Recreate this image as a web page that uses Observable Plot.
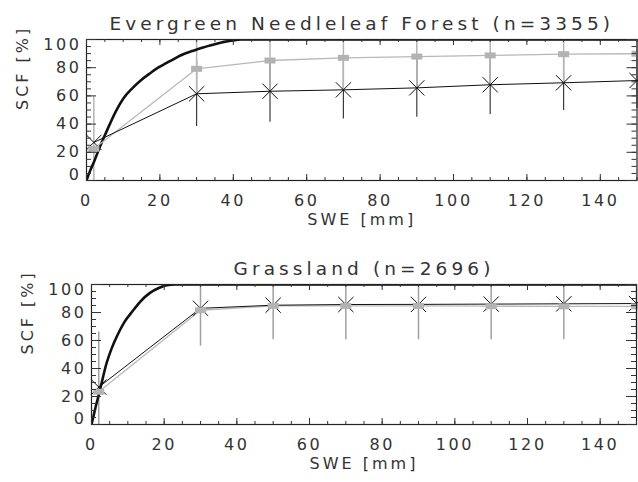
<!DOCTYPE html>
<html><head><meta charset="utf-8">
<script src="https://cdn.jsdelivr.net/npm/d3@7"></script>
<script src="https://cdn.jsdelivr.net/npm/@observablehq/plot@0.6"></script>
<style>
body{margin:0;background:#fff;overflow:hidden}
svg{display:block}
svg text{letter-spacing:2.6px}
.panel{position:relative;width:638px;height:241px}
.panel svg.overlay{position:absolute;left:0;top:0;pointer-events:none;background:transparent}
</style>
</head><body><div id="chart"></div>
<script>
// ---- data ----
const swe = [2, 30, 50, 70, 90, 110, 130, 150];

// Evergreen Needleleaf Forest
const enfTitle = "Evergreen Needleleaf Forest (n=3355)";
const enfGray   = [22.5, 79.2, 85.1, 87.0, 87.9, 88.7, 89.6, 89.9];
const enfGrayLo = [0, 61.5, 63.3, 64.3, 65.7, 67.9, 69.3, 70.9];
const enfGrayHi = [60, 100, 100, 100, 100, 100, 100, 100];
const enfBlack   = [27, 61.5, 63.3, 64.3, 65.7, 67.9, 69.3, 70.9];
const enfBlackLo = [27, 38.3, 41.4, 43.7, 44.9, 46.8, 49.6, 51];
const enfBlackHi = [27, 84.7, 85.2, 84.9, 86.5, 89, 89, 90];
const enfCurveX = [0, 1, 2, 3.6, 5.5, 8.1, 10, 12.6, 15, 17.1, 19.5, 21.7, 24, 26.2, 28.5, 30.7, 33, 35.3, 37.5, 39.8, 42, 150];
const enfCurveY = [0, 7, 13, 23.6, 35, 49.6, 58, 65.7, 71.5, 75.6, 80, 83.2, 86.5, 89.4, 91.6, 93.4, 95.3, 96.9, 98.3, 99.3, 100, 100];

// Grassland
const grsTitle = "Grassland (n=2696)";
const grsGray   = [23.4, 81.6, 84.7, 84.7, 84.7, 84.5, 84.4, 84.4];
const grsGrayLo = [0, 56, 60.6, 60.6, 60.6, 60.6, 60.6, 60.6];
const grsGrayHi = [66, 100, 100, 100, 100, 100, 100, 100];
const grsBlack   = [26.7, 83, 85.2, 85.7, 85.8, 86.0, 86.2, 86.4];
const grsBlackLo = [26.7, 83, 85.2, 85.7, 85.8, 86.0, 86.2, 86.4];
const grsBlackHi = [26.7, 83, 85.2, 85.7, 85.8, 86.0, 86.2, 86.4];
const grsCurveX = [0, 1, 2.3, 4.1, 5.5, 6.9, 9, 11.5, 13.5, 16.1, 18.5, 20.7, 23, 150];
const grsCurveY = [0, 11, 24.3, 43.4, 54, 62.5, 73, 81.6, 88, 94, 97.5, 99.5, 100, 100];

// ticks
const xMajor = [0, 20, 40, 60, 80, 100, 120, 140];
const xMinor = [0, 5, 10, 15, 20, 25, 30, 35, 40, 45, 50, 55, 60, 65, 70, 75, 80, 85, 90, 95, 100, 105, 110, 115, 120, 125, 130, 135, 140, 145, 150];
const yMajor = [0, 20, 40, 60, 80, 100];
const yMinor = [0, 5, 10, 15, 20, 25, 30, 35, 40, 45, 50, 55, 60, 65, 70, 75, 80, 85, 90, 95, 100];
const yMidLabels = [20, 40, 60, 80];
const yTopLabel = [100];
const yBottomLabel = [0];
const xLabel = "SWE [mm]";
const yLabel = "SCF [%]";

const X_DOMAIN = [0, 150], Y_DOMAIN = [0, 100];
const WIDTH = 638;

// wide rectangle marker
const wideSquare = {draw(ctx) { const w = 5.5, h = 3; ctx.moveTo(-w, -h); ctx.lineTo(w, -h); ctx.lineTo(w, h); ctx.lineTo(-w, h); ctx.closePath(); }};

function panel(o) {
  const gray = swe.map((x, i) => ({x, y: o.grayY[i], lo: o.grayLo[i], hi: o.grayHi[i]}));
  const black = swe.map((x, i) => ({x, y: o.blackY[i], lo: o.blackLo[i], hi: o.blackHi[i]}));
  const curve = o.curveX.map((x, i) => ({x, y: o.curveY[i]}));
  const tc = "#333";
  const fs = 16;
  const dims = {width: WIDTH, height: o.height, marginLeft: o.marginLeft, marginRight: o.marginRight, marginTop: o.marginTop, marginBottom: o.marginBottom};

  const main = Plot.plot({
    ...dims,
    x: {domain: X_DOMAIN}, y: {domain: Y_DOMAIN},
    style: {fontFamily: "DejaVu Sans", color: "#222", background: "white"},
    marks: [
      Plot.ruleX(black, {x: "x", y1: "lo", y2: "hi", stroke: "#3c3c3c", strokeWidth: 1.2}),
      Plot.ruleX(gray, {x: "x", y1: "lo", y2: "hi", stroke: o.grayBar, strokeWidth: 1.5}),
      Plot.line(curve, {x: "x", y: "y", stroke: "#111", strokeWidth: 2.6, curve: "monotone-x", clip: true}),
      Plot.line(gray, {x: "x", y: "y", stroke: "#b8b8b8", strokeWidth: 1.3}),
      Plot.line(black, {x: "x", y: "y", stroke: "#111", strokeWidth: 1}),
      Plot.dot(black, {x: "x", y: "y", symbol: "times", r: 7, stroke: "#111", strokeWidth: 1}),
      Plot.dot(gray, {x: "x", y: "y", symbol: wideSquare, fill: "#b3b3b3", stroke: "none"}),
      Plot.frame({stroke: "#222", strokeWidth: 1.2}),
      // tick labels
      Plot.axisX(xMajor, {anchor: "bottom", tickSize: 0, tickPadding: 14, stroke: "none", label: null, fontSize: fs, fill: tc}),
      Plot.axisY(yMidLabels, {anchor: "left", tickSize: 0, tickPadding: 5, stroke: "none", label: null, fontSize: fs, fill: tc}),
      Plot.axisY(yTopLabel, {anchor: "left", tickSize: 0, tickPadding: 5, stroke: "none", label: null, fontSize: fs, fill: tc, dy: 5.5}),
      Plot.axisY(yBottomLabel, {anchor: "left", tickSize: 0, tickPadding: 5, stroke: "none", label: null, fontSize: fs, fill: tc, dy: -6}),
      // titles
      Plot.text([o.title], {frameAnchor: "top", dy: -10, lineAnchor: "bottom", fontSize: 18.5, fill: tc}),
      Plot.text([xLabel], {frameAnchor: "bottom", dy: 39, lineAnchor: "middle", fontSize: fs, fill: tc}),
      Plot.text([yLabel], {frameAnchor: "left", dx: -64, rotate: -90, fontSize: fs, fill: tc})
    ]
  });
  d3.select(main).selectAll("text").filter(function() { return this.textContent === o.title; }).style("letter-spacing", "4.1px");
  d3.select(main).selectAll("text").filter(function() { return this.textContent === xLabel || this.textContent === yLabel; }).style("letter-spacing", "3px");

  // inward tick marks, drawn on an overlay plot with the same scales
  const innerW = WIDTH - o.marginLeft - o.marginRight;
  const innerH = o.height - o.marginTop - o.marginBottom;
  const ux = (X_DOMAIN[1] - X_DOMAIN[0]) / innerW;
  const uy = (Y_DOMAIN[1] - Y_DOMAIN[0]) / innerH;
  const xRows = (vals, len) => vals.map(v => ({v, a0: Y_DOMAIN[0], a1: Y_DOMAIN[0] + len * uy, b0: Y_DOMAIN[1], b1: Y_DOMAIN[1] - len * uy}));
  const yRows = (vals, len) => vals.map(v => ({v, a0: X_DOMAIN[0], a1: X_DOMAIN[0] + len * ux, b0: X_DOMAIN[1], b1: X_DOMAIN[1] - len * ux}));
  const xr = [...xRows(xMinor, 3), ...xRows(xMajor, 6)];
  const yr = [...yRows(yMinor, 5), ...yRows(yMajor, 10)];
  const overlay = Plot.plot({
    ...dims,
    x: {domain: X_DOMAIN, axis: null}, y: {domain: Y_DOMAIN, axis: null},
    style: {background: "transparent"},
    marks: [
      Plot.ruleX(xr, {x: "v", y1: "a0", y2: "a1", stroke: tc}),
      Plot.ruleX(xr, {x: "v", y1: "b0", y2: "b1", stroke: tc}),
      Plot.ruleY(yr, {y: "v", x1: "a0", x2: "a1", stroke: tc}),
      Plot.ruleY(yr, {y: "v", x1: "b0", x2: "b1", stroke: tc})
    ]
  });
  overlay.classList.add("overlay");

  const div = document.createElement("div");
  div.className = "panel";
  div.append(main, overlay);
  return div;
}

const chart = document.getElementById("chart");
chart.append(panel({
  title: enfTitle, height: 241, marginLeft: 86, marginRight: 1.5, marginTop: 39, marginBottom: 61,
  grayY: enfGray, grayLo: enfGrayLo, grayHi: enfGrayHi, blackY: enfBlack, blackLo: enfBlackLo, blackHi: enfBlackHi,
  curveX: enfCurveX, curveY: enfCurveY, grayBar: "#b5b5b5"
}));
chart.append(panel({
  title: grsTitle, height: 241, marginLeft: 91, marginRight: 2, marginTop: 43, marginBottom: 58,
  grayY: grsGray, grayLo: grsGrayLo, grayHi: grsGrayHi, blackY: grsBlack, blackLo: grsBlackLo, blackHi: grsBlackHi,
  curveX: grsCurveX, curveY: grsCurveY, grayBar: "#a0a0a0"
}));
</script>
</body></html>
